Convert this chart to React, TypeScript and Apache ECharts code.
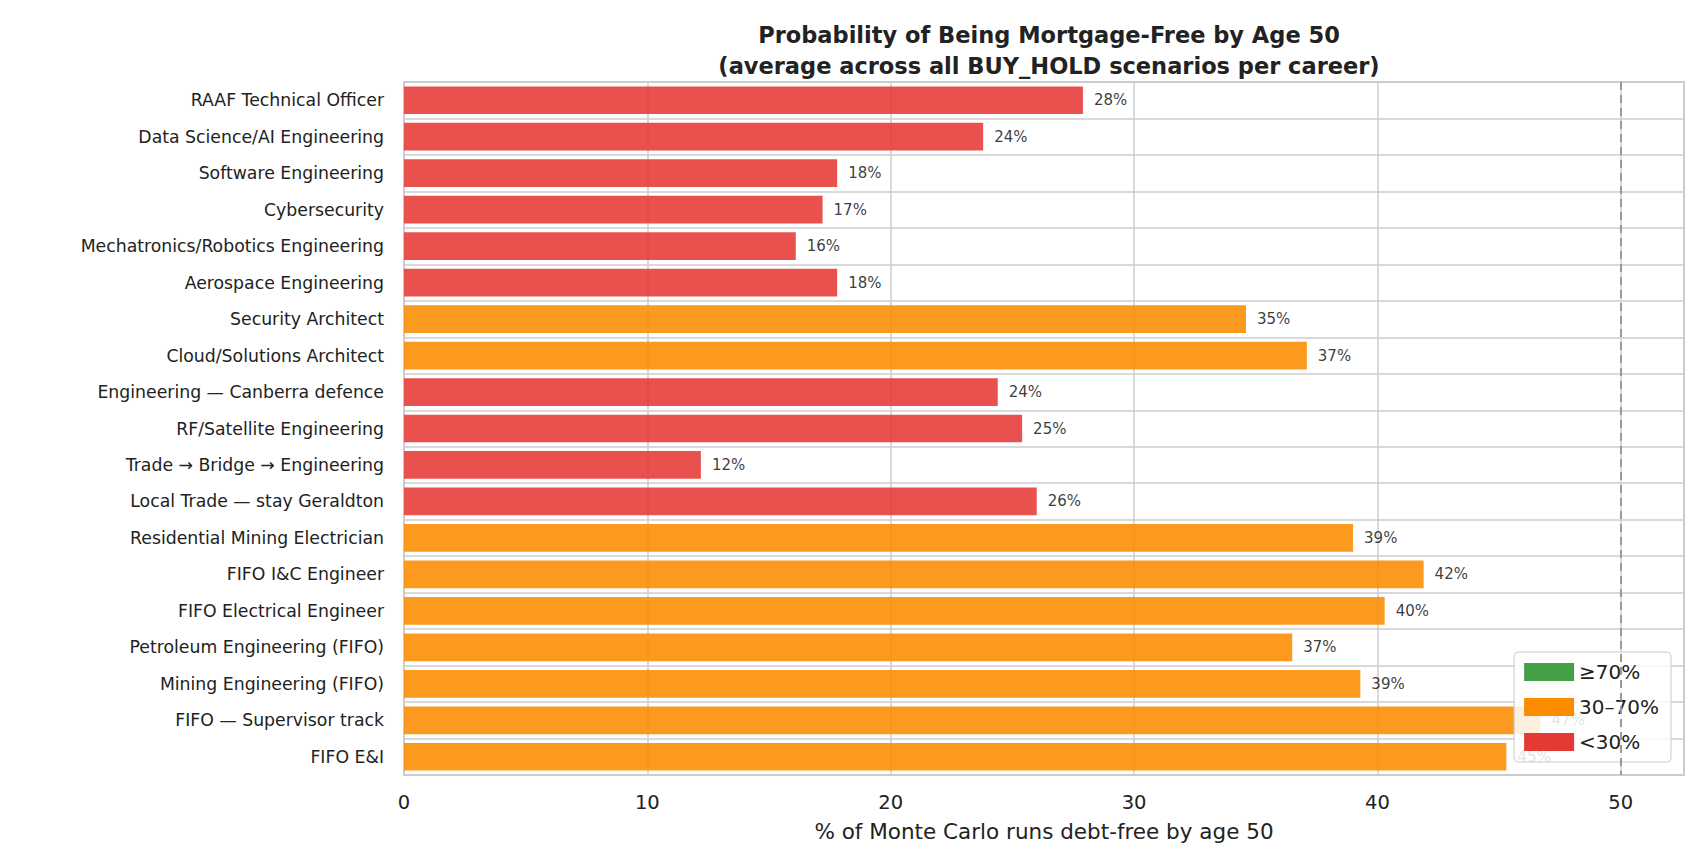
import React, { useEffect, useRef } from 'react';
import * as echarts from 'echarts';

const careers = [
  'RAAF Technical Officer', 'Data Science/AI Engineering', 'Software Engineering', 'Cybersecurity',
  'Mechatronics/Robotics Engineering', 'Aerospace Engineering', 'Security Architect', 'Cloud/Solutions Architect',
  'Engineering — Canberra defence', 'RF/Satellite Engineering', 'Trade → Bridge → Engineering',
  'Local Trade — stay Geraldton', 'Residential Mining Electrician', 'FIFO I&C Engineer', 'FIFO Electrical Engineer',
  'Petroleum Engineering (FIFO)', 'Mining Engineering (FIFO)', 'FIFO — Supervisor track', 'FIFO E&I',
];
const probability = [27.9, 23.8, 17.8, 17.2, 16.1, 17.8, 34.6, 37.1, 24.4, 25.4, 12.2, 26.0, 39.0, 41.9, 40.3, 36.5, 39.3, 46.7, 45.3];
const xTicks = [0, 10, 20, 30, 40, 50];

const bands = [
  { name: '≥70%', color: '#43a047', test: (v: number) => v >= 70 },
  { name: '30–70%', color: '#fb8c00', test: (v: number) => v >= 30 && v < 70 },
  { name: '<30%', color: '#e53935', test: (v: number) => v < 30 },
];

const App: React.FC = () => {
  const ref = useRef<HTMLDivElement>(null);

  useEffect(() => {
    if (!ref.current) return;
    const chart = echarts.init(ref.current, undefined, { renderer: 'svg' });
    const font = "'DejaVu Sans', sans-serif";

    const series: any[] = bands.map((b, i) => ({
      name: b.name,
      type: 'bar',
      stack: 'all',
      barCategoryGap: '24%',
      data: probability.map((v) => (b.test(v) ? v : null)),
      itemStyle: { color: b.color, opacity: 0.88 },
      label: {
        show: true, position: 'right', distance: 11, fontFamily: font, fontSize: 15, color: '#222',
        formatter: (p: any) => `${Math.round(p.value)}%`,
      },
      markLine: i === 0 ? {
        silent: true, symbol: 'none', label: { show: false },
        lineStyle: { color: '#999', type: [8, 5], width: 2 },
        data: [{ xAxis: 50 }],
      } : undefined,
    }));

    chart.setOption({
      animation: false,
      backgroundColor: '#fff',
      title: {
        text: 'Probability of Being Mortgage-Free by Age 50\n(average across all BUY_HOLD scenarios per career)',
        left: 1044, top: 14, textAlign: 'center',
        textStyle: { fontFamily: font, fontSize: 22.5, fontWeight: 'bold', color: '#222', lineHeight: 31 },
      },
      legend: {
        orient: 'vertical', right: 27, bottom: 106,
        icon: 'rect', itemWidth: 50, itemHeight: 18, itemGap: 15,
        backgroundColor: 'rgba(255,255,255,0.85)', borderColor: '#ccc', borderWidth: 1, borderRadius: 4,
        padding: [10, 12, 10, 10],
        textStyle: { fontFamily: font, fontSize: 20, color: '#222' },
        data: bands.map((b) => ({ name: b.name, itemStyle: { color: b.color, opacity: 1 } })),
      },
      grid: { left: 404, right: 14, top: 82, bottom: 93, show: true, borderColor: '#ccc', borderWidth: 2 },
      xAxis: {
        type: 'value', min: 0, max: 52.6, interval: 10,
        name: '% of Monte Carlo runs debt-free by age 50', nameLocation: 'middle', nameGap: 45,
        nameTextStyle: { fontFamily: font, fontSize: 21.5, color: '#222' },
        axisLabel: {
          fontFamily: font, fontSize: 19.5, color: '#222', margin: 17,
          formatter: (v: number) => (xTicks.includes(v) ? String(v) : ''),
        },
        axisLine: { show: false }, axisTick: { show: false },
        splitLine: { lineStyle: { color: '#ccc', width: 1.5 } },
      },
      yAxis: {
        type: 'category', inverse: true, data: careers,
        axisLabel: { fontFamily: font, fontSize: 17.3, color: '#222', margin: 20 },
        axisLine: { show: false }, axisTick: { show: false },
        splitLine: { show: true, lineStyle: { color: '#ccc', width: 1.5 } },
      },
      series,
    });

    return () => chart.dispose();
  }, []);

  return <div ref={ref} style={{ position: 'fixed', left: 0, top: 0, width: 1698, height: 868 }} />;
};

export default App;
